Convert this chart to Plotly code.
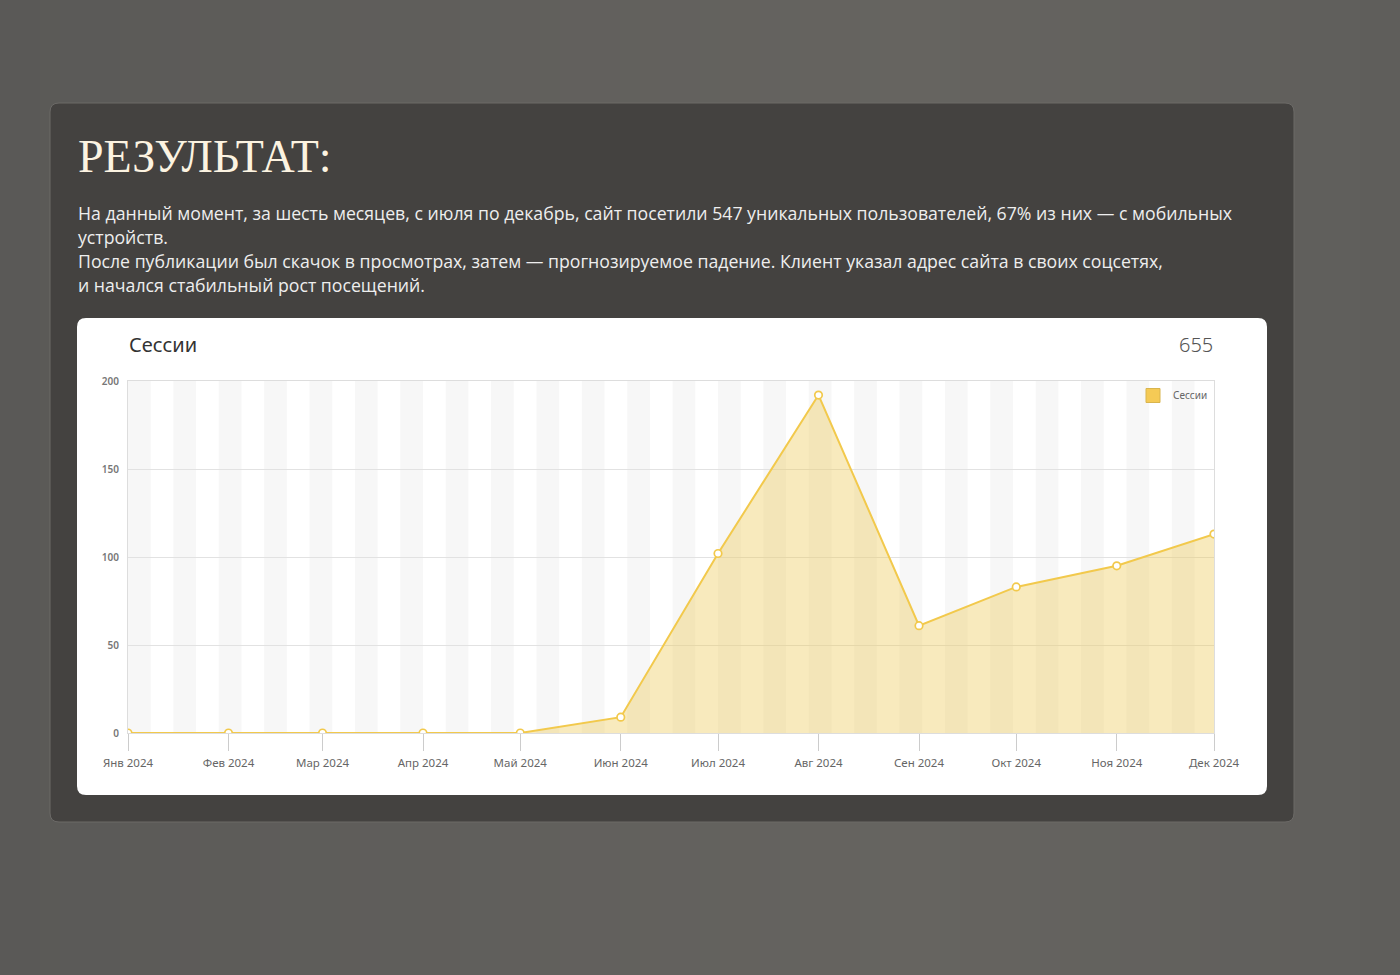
import plotly.graph_objects as go
from datetime import date, timedelta

# ---- data ----
months = ["2024-01-01", "2024-02-01", "2024-03-01", "2024-04-01", "2024-05-01", "2024-06-01",
          "2024-07-01", "2024-08-01", "2024-09-01", "2024-10-01", "2024-11-01", "2024-12-01"]
month_labels = ["Янв 2024", "Фев 2024", "Мар 2024", "Апр 2024", "Май 2024", "Июн 2024",
                "Июл 2024", "Авг 2024", "Сен 2024", "Окт 2024", "Ноя 2024", "Дек 2024"]
sessions = [0, 0, 0, 0, 0, 9, 102, 192, 61, 83, 95, 113]
y_ticks = [0, 50, 100, 150, 200]
series_name = "Сессии"
total_label = "655"

title_text = "РЕЗУЛЬТАТ:"
paragraph_lines = [
    "На данный момент, за шесть месяцев, с июля по декабрь, сайт посетили 547 уникальных пользователей, 67% из них — с мобильных",
    "устройств.",
    "После публикации был скачок в просмотрах, затем — прогнозируемое падение. Клиент указал адрес сайта в своих соцсетях,",
    "и начался стабильный рост посещений.",
]

W, H = 1400, 975
LINE = "#f2c94c"
FILL = "rgba(237, 200, 82, 0.38)"


def fx(px):
    return px / W


def fy(py):
    return 1 - py / H


def rounded_rect(x0, y0, x1, y1, r):
    pts = [
        f"M {fx(x0 + r)} {fy(y0)}",
        f"L {fx(x1 - r)} {fy(y0)}",
        f"Q {fx(x1)} {fy(y0)} {fx(x1)} {fy(y0 + r)}",
        f"L {fx(x1)} {fy(y1 - r)}",
        f"Q {fx(x1)} {fy(y1)} {fx(x1 - r)} {fy(y1)}",
        f"L {fx(x0 + r)} {fy(y1)}",
        f"Q {fx(x0)} {fy(y1)} {fx(x0)} {fy(y1 - r)}",
        f"L {fx(x0)} {fy(y0 + r)}",
        f"Q {fx(x0)} {fy(y0)} {fx(x0 + r)} {fy(y0)}",
        "Z",
    ]
    return " ".join(pts)


shapes = []

# background horizontal gradient
def lerp(c1, c2, t):
    return tuple(round(a + (b - a) * t) for a, b in zip(c1, c2))

stops = [(0.0, (90, 89, 87)), (0.65, (102, 100, 96)), (1.0, (95, 94, 91))]
nb = 70
for i in range(nb):
    t = (i + 0.5) / nb
    c = stops[-1][1]
    for j in range(len(stops) - 1):
        if stops[j][0] <= t <= stops[j + 1][0]:
            tt = (t - stops[j][0]) / (stops[j + 1][0] - stops[j][0])
            c = lerp(stops[j][1], stops[j + 1][1], tt)
            break
    shapes.append(dict(type="rect", xref="paper", yref="paper", x0=i / nb, x1=min(1, (i + 1) / nb + 0.001),
                       y0=0, y1=1, fillcolor=f"rgb{c}", line=dict(width=0), layer="below"))

# dark card
shapes.append(dict(type="path", xref="paper", yref="paper", path=rounded_rect(50, 103, 1294, 822, 9),
                   fillcolor="#444240", line=dict(color="#6c6a67", width=1), layer="below"))
# white card
shapes.append(dict(type="path", xref="paper", yref="paper", path=rounded_rect(77, 318, 1267, 795, 9),
                   fillcolor="#ffffff", line=dict(width=0), layer="below"))

# weekly stripes in plot background
start = date(2024, 1, 1)
end = date(2024, 12, 1)
d = start
while d < end:
    e = min(d + timedelta(days=7), end)
    shapes.append(dict(type="rect", xref="x", yref="y", x0=d.isoformat(), x1=e.isoformat(),
                       y0=0, y1=200, fillcolor="#f7f7f7", line=dict(width=0), layer="below"))
    d += timedelta(days=14)

fig = go.Figure()
fig.add_trace(go.Scatter(
    x=months, y=sessions, mode="lines+markers", fill="tozeroy", fillcolor=FILL,
    line=dict(color=LINE, width=2),
    marker=dict(size=7.5, color="#ffffff", line=dict(color=LINE, width=1.7)),
    name=series_name, showlegend=False, hoverinfo="x+y",
))
# legend entry (filled square)
fig.add_trace(go.Scatter(
    x=[None], y=[None], mode="markers", name=series_name,
    marker=dict(symbol="square", size=14, color="#f5ca55", line=dict(color="#d9b54e", width=1)),
    showlegend=True,
))

annotations = [
    dict(text=title_text, x=fx(76), y=fy(156), xref="paper", yref="paper", xanchor="left", yanchor="middle",
         showarrow=False, font=dict(family="Liberation Serif", size=46, color="#fcf3e1")),
    dict(text=series_name, x=fx(127), y=fy(344), xref="paper", yref="paper", xanchor="left", yanchor="middle",
         showarrow=False, font=dict(family="Noto Sans", size=20, color="#333333")),
    dict(text=total_label, x=fx(1215), y=fy(344), xref="paper", yref="paper", xanchor="right", yanchor="middle",
         showarrow=False, font=dict(family="Noto Sans", size=20, color="#555555", weight=300)),
]
line_y = [213, 237, 261, 285]
for txt, ly in zip(paragraph_lines, line_y):
    annotations.append(dict(text=txt, x=fx(76), y=fy(ly), xref="paper", yref="paper", xanchor="left",
                            yanchor="middle", showarrow=False,
                            font=dict(family="Open Sans", size=17.7, color="#eeeeee")))

fig.update_layout(
    width=W, height=H,
    margin=dict(l=0, r=0, t=0, b=0, autoexpand=False),
    paper_bgcolor="#5f5e5b",
    plot_bgcolor="rgba(0,0,0,0)",
    shapes=shapes,
    annotations=annotations,
    showlegend=True,
    legend=dict(x=fx(1213), y=fy(381), xanchor="right", yanchor="top", bgcolor="rgba(0,0,0,0)",
                font=dict(family="Noto Sans", size=10, color="#666666"), itemwidth=30,
                tracegroupgap=0),
    xaxis=dict(
        domain=[fx(128), fx(1214)], type="date", range=[months[0], months[-1]], automargin=False,
        tickvals=months, ticktext=month_labels, ticks="outside", ticklen=17, tickcolor="#cccccc",
        tickfont=dict(family="Noto Sans", size=11.5, color="#666666"), ticklabelstandoff=2,
        showgrid=False, showline=True, linecolor="#dddddd", mirror=True, zeroline=False,
    ),
    yaxis=dict(
        domain=[fy(733), fy(381)], range=[0, 200], tickvals=y_ticks, automargin=False,
        tickfont=dict(family="Noto Sans", size=10, color="#777777", weight=600),
        showgrid=True, gridcolor="#e2e2e2", showline=True, linecolor="#dddddd", mirror=True,
        zeroline=False, ticks="", ticklabelstandoff=6,
    ),
)

fig.write_html("out.html", config={"displayModeBar": False},
               post_script="document.body.style.margin='0';")
